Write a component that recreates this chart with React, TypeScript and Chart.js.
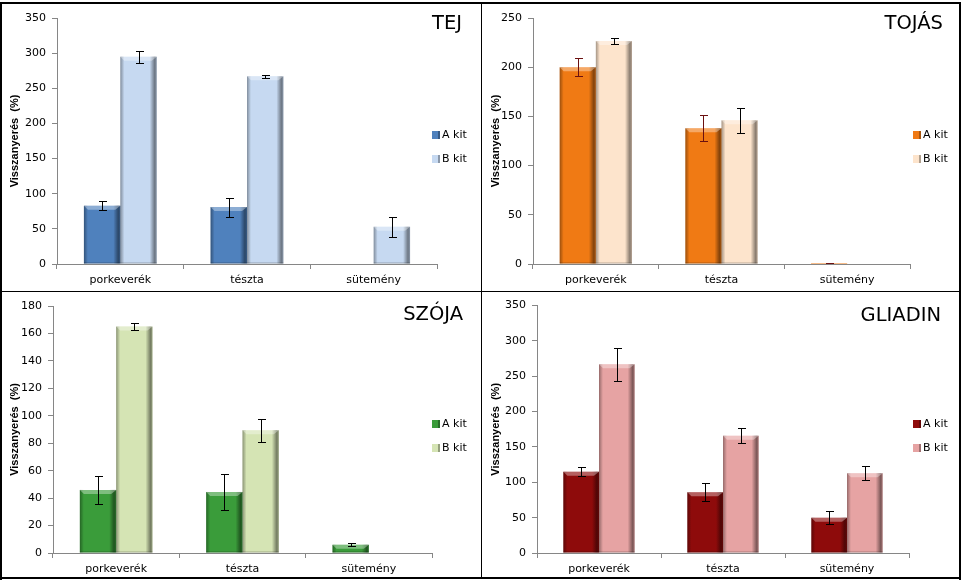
import React, { useEffect, useRef } from 'react';
import { Chart, registerables } from 'chart.js';
Chart.register(...registerables);

const FONT = '"DejaVu Sans", Verdana, sans-serif';
const TITLE_FONT = '"Liberation Sans", Arial, sans-serif';

const categories = ['porkeverék', 'tészta', 'sütemény'];
const seriesNames = ['A kit', 'B kit'];
const yAxisTitle = 'Visszanyerés  (%)';

// TEJ
const tejA = [83, 81, null];
const tejAErr = [6, 13.5, 0];
const tejB = [295, 267, 53];
const tejBErr = [8.5, 2, 14];
const tejTicks = [0, 50, 100, 150, 200, 250, 300, 350];

// TOJÁS
const tojasA = [200, 138, 1];
const tojasAErr = [9, 13, 0.2];
const tojasB = [226.5, 146, null];
const tojasBErr = [3, 13, 0];
const tojasTicks = [0, 50, 100, 150, 200, 250];

// SZÓJA
const szojaA = [46, 44.5, 6];
const szojaAErr = [10, 13, 1];
const szojaB = [165, 89.5, null];
const szojaBErr = [2.8, 8.5, 0];
const szojaTicks = [0, 20, 40, 60, 80, 100, 120, 140, 160, 180];

// GLIADIN
const gliadinA = [115, 86, 50];
const gliadinAErr = [6, 13, 9];
const gliadinB = [267, 166, 113];
const gliadinBErr = [23, 11, 10];
const gliadinTicks = [0, 50, 100, 150, 200, 250, 300, 350];

type Panel = {
  title: string;
  x: number; y: number; w: number; h: number;
  area: { l: number; t: number; r: number; b: number };
  ticks: number[];
  a: (number | null)[]; aErr: number[];
  b: (number | null)[]; bErr: number[];
  colA: string; colB: string;
  errA: string; errB: string;
  titleX: number; titleY: number;
};

const panels: Panel[] = [
  {
    title: 'TEJ', x: 2, y: 4, w: 478, h: 286,
    area: { l: 55, t: 14, r: 435, b: 260 },
    ticks: tejTicks, a: tejA, aErr: tejAErr, b: tejB, bErr: tejBErr,
    colA: '#4F81BD', colB: '#C6D9F1', errA: '#000', errB: '#000',
    titleX: 460, titleY: 20,
  },
  {
    title: 'TOJÁS', x: 483, y: 4, w: 476, h: 286,
    area: { l: 50, t: 14, r: 427, b: 260 },
    ticks: tojasTicks, a: tojasA, aErr: tojasAErr, b: tojasB, bErr: tojasBErr,
    colA: '#F07A14', colB: '#FDE4CC', errA: '#6b1010', errB: '#000',
    titleX: 460, titleY: 20,
  },
  {
    title: 'SZÓJA', x: 2, y: 293, w: 478, h: 284,
    area: { l: 51, t: 13, r: 430, b: 260 },
    ticks: szojaTicks, a: szojaA, aErr: szojaAErr, b: szojaB, bErr: szojaBErr,
    colA: '#3A9C3A', colB: '#D5E4B4', errA: '#000', errB: '#000',
    titleX: 461, titleY: 22,
  },
  {
    title: 'GLIADIN', x: 483, y: 293, w: 476, h: 284,
    area: { l: 54, t: 7, r: 426, b: 260 },
    ticks: gliadinTicks, a: gliadinA, aErr: gliadinAErr, b: gliadinB, bErr: gliadinBErr,
    colA: '#8E0B0B', colB: '#E6A3A3', errA: '#000', errB: '#000',
    titleX: 458, titleY: 23,
  },
];

function PanelChart({ p }: { p: Panel }) {
  const ref = useRef<HTMLCanvasElement>(null);
  useEffect(() => {
    if (!ref.current) return;

    const bevel = {
      id: 'bevel',
      afterDatasetsDraw(chart: any) {
        const ctx = chart.ctx;
        chart.data.datasets.forEach((ds: any, di: number) => {
          const meta = chart.getDatasetMeta(di);
          meta.data.forEach((el: any, i: number) => {
            const v = ds.data[i];
            if (v == null) return;
            const { x, y, base, width } = el.getProps(['x', 'y', 'base', 'width'], true);
            const l = x - width / 2, r = x + width / 2;
            const t = Math.min(y, base), b = Math.max(y, base);
            const h = b - t;
            if (h < 2) return;
            ctx.save();
            let g = ctx.createLinearGradient(l, 0, l + 4, 0);
            g.addColorStop(0, 'rgba(0,0,0,0.35)');
            g.addColorStop(1, 'rgba(0,0,0,0)');
            ctx.fillStyle = g;
            ctx.fillRect(l, t, 4, h);
            g = ctx.createLinearGradient(r - 7, 0, r, 0);
            g.addColorStop(0, 'rgba(0,0,0,0)');
            g.addColorStop(0.7, 'rgba(0,0,0,0.45)');
            g.addColorStop(1, 'rgba(0,0,0,0.3)');
            ctx.fillStyle = g;
            ctx.fillRect(r - 7, t, 7, h);
            const bh = Math.min(4, h / 2);
            ctx.beginPath();
            ctx.moveTo(l, t);
            ctx.lineTo(r, t);
            ctx.lineTo(r - 5, t + bh);
            ctx.lineTo(l + 4, t + bh);
            ctx.closePath();
            ctx.fillStyle = 'rgba(255,255,255,0.35)';
            ctx.fill();
            ctx.fillStyle = 'rgba(0,0,0,0.25)';
            ctx.fillRect(l, b - 1, width, 1);
            ctx.restore();
          });
        });
      },
    };

    const errors = {
      id: 'errs',
      afterDatasetsDraw(chart: any) {
        const ctx = chart.ctx;
        const ys = chart.scales.y;
        chart.data.datasets.forEach((ds: any, di: number) => {
          const meta = chart.getDatasetMeta(di);
          meta.data.forEach((el: any, i: number) => {
            const v = ds.data[i];
            if (v == null) return;
            const e = ds.errors[i] || 0;
            const x = Math.round(el.x) + 0.5;
            const y1 = Math.round(ys.getPixelForValue(v + e)) + 0.5;
            const y2 = Math.round(ys.getPixelForValue(Math.max(0, v - e))) + 0.5;
            ctx.save();
            ctx.strokeStyle = ds.errColor;
            ctx.lineWidth = 1;
            ctx.beginPath();
            ctx.moveTo(x, y1); ctx.lineTo(x, y2);
            ctx.moveTo(x - 3.5, y1); ctx.lineTo(x + 4.5, y1);
            ctx.moveTo(x - 3.5, y2); ctx.lineTo(x + 4.5, y2);
            ctx.stroke();
            ctx.restore();
          });
        });
      },
    };

    const deco = {
      id: 'deco',
      afterDraw(chart: any) {
        const ctx = chart.ctx;
        ctx.save();
        ctx.fillStyle = '#000';
        ctx.font = `19.5px ${FONT}`;
        ctx.textAlign = 'right';
        ctx.textBaseline = 'middle';
        ctx.fillText(p.title, p.titleX, p.titleY);
        ctx.font = `11px ${FONT}`;
        ctx.textAlign = 'left';
        chart.data.datasets.forEach((ds: any, di: number) => {
          const cy = 131 + di * 24;
          ctx.fillStyle = ds.backgroundColor;
          ctx.fillRect(430, cy - 4, 8, 8);
          ctx.fillStyle = 'rgba(0,0,0,0.3)';
          ctx.fillRect(436, cy - 4, 2, 8);
          ctx.fillStyle = '#000';
          ctx.fillText(ds.label, 440, cy + 0.5);
        });
        ctx.restore();
      },
    };

    const axisColor = '#868686';
    const chart = new Chart(ref.current, {
      type: 'bar',
      data: {
        labels: categories,
        datasets: [
          {
            label: seriesNames[0], data: p.a as any, backgroundColor: p.colA, borderWidth: 0,
            categoryPercentage: 0.575, barPercentage: 1, errors: p.aErr, errColor: p.errA,
          } as any,
          {
            label: seriesNames[1], data: p.b as any, backgroundColor: p.colB, borderWidth: 0,
            categoryPercentage: 0.575, barPercentage: 1, errors: p.bErr, errColor: p.errB,
          } as any,
        ],
      },
      options: {
        animation: false,
        responsive: false,
        maintainAspectRatio: false,
        layout: { padding: { left: 2, top: p.area.t, right: p.w - p.area.r, bottom: 0 } },
        plugins: { legend: { display: false }, tooltip: { enabled: false }, title: { display: false } },
        scales: {
          x: {
            type: 'category',
            grid: { display: true, drawOnChartArea: false, drawTicks: true, tickLength: 5, color: axisColor, offset: true },
            border: { color: axisColor, width: 1 },
            ticks: { font: { family: FONT, size: 11 }, color: '#000', padding: 5, maxRotation: 0, autoSkip: false },
            afterFit: (s: any) => { s.height = p.h - p.area.b; },
          },
          y: {
            min: p.ticks[0],
            max: p.ticks[p.ticks.length - 1],
            grid: { display: true, drawOnChartArea: false, drawTicks: true, tickLength: 5, color: axisColor },
            border: { color: axisColor, width: 1 },
            ticks: { stepSize: p.ticks[1] - p.ticks[0], font: { family: FONT, size: 11 }, color: '#000', padding: 6 },
            title: {
              display: true, text: yAxisTitle, color: '#000',
              font: { family: TITLE_FONT, size: 11, weight: 'bold' }, padding: { top: 4, bottom: 4 },
            },
            afterFit: (s: any) => { s.width = p.area.l - 2; },
          },
        },
      } as any,
      plugins: [bevel, errors, deco],
    });
    return () => chart.destroy();
  }, [p]);
  return (
    <canvas
      ref={ref}
      width={p.w}
      height={p.h}
      style={{ position: 'absolute', left: p.x, top: p.y, width: p.w, height: p.h }}
    />
  );
}

export default function App() {
  const line = (l: number, t: number, w: number, h: number) => (
    <div style={{ position: 'absolute', left: l, top: t, width: w, height: h, background: '#000' }} />
  );
  return (
    <div style={{ position: 'fixed', left: 0, top: 0, width: 961, height: 580, background: '#fff', overflow: 'hidden' }}>
      {panels.map((p) => <PanelChart key={p.title} p={p} />)}
      {line(0, 2, 961, 2)}
      {line(0, 2, 2, 578)}
      {line(959, 2, 2, 578)}
      {line(0, 577, 961, 2)}
      {line(481, 2, 1, 577)}
      {line(0, 291, 961, 1)}
    </div>
  );
}
